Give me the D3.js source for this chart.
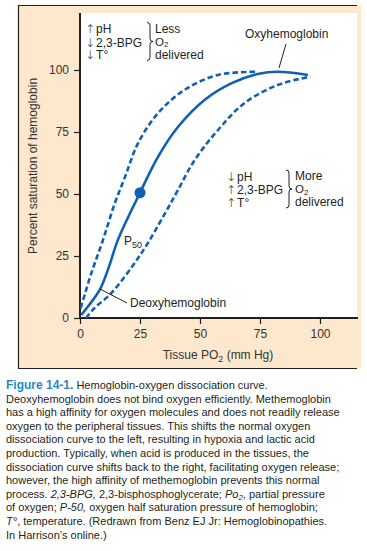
<!DOCTYPE html>
<html><head><meta charset="utf-8">
<script src="https://cdn.jsdelivr.net/npm/d3@7"></script>
<style>
html,body{margin:0;padding:0;background:#fff;}
svg{display:block;}
</style></head>
<body>
<svg id="c" width="367" height="551"></svg>
<script>
// ---- data ----
const xTicks = [0, 25, 50, 75, 100];
const yTicks = [0, 25, 50, 75, 100];
const normalPO2 = [0.5, 3.3, 8.2, 12, 15.8, 25, 32.5, 40.8, 52, 63, 74, 82.5, 95];
const normalSat = [1.2, 4.6, 11.3, 20.5, 31.5, 50.5, 65, 77, 88, 94.6, 98.4, 99.3, 98];
const leftPO2 = [0.3, 4.7, 9.6, 14.4, 18.8, 24.2, 32.5, 43.6, 57.5, 74];
const leftSat = [4, 18, 31.5, 46, 57, 70.5, 82.6, 92, 98, 99.3];
const rightPO2 = [2.5, 6, 13, 25.5, 35.3, 40.8, 47.8, 57.5, 68.6, 82.5, 96];
const rightSat = [0, 4, 10, 26, 42, 51.6, 63.7, 75.8, 86.7, 94, 97.3];
const p50Point = [25, 50.5];
const topArrows = ["\u2191", "\u2193", "\u2193"];
const topLeftLines = ["pH", "2,3-BPG", "T\u00b0"];
const topRightLines = ["Less", "O2", "delivered"];
const botArrows = ["\u2193", "\u2191", "\u2191"];
const botLeftLines = ["pH", "2,3-BPG", "T\u00b0"];
const botRightLines = ["More", "O2", "delivered"];

const svg = d3.select("#c");
const BLUE = "#1260b4";
const INK = "#231f20";
const FONT = "'Liberation Sans', Arial, sans-serif";

// frame
svg.append("rect").attr("x", 18).attr("y", 5).attr("width", 343).attr("height", 364).attr("fill", "#fde8cd");
svg.append("path").attr("d", "M357,5.5 H18.5 V368.5 H357").attr("fill", "none").attr("stroke", INK).attr("stroke-width", 1.2);
svg.append("rect").attr("x", 80).attr("y", 13).attr("width", 277).attr("height", 305).attr("fill", "#fff");

const x = d3.scaleLinear().domain([0, 100]).range([80, 320]);
const y = d3.scaleLinear().domain([0, 100]).range([318, 70]);

// axes
const gx = svg.append("g").attr("transform", "translate(0,318)")
  .call(d3.axisBottom(x).tickValues(xTicks).tickSize(6).tickPadding(5).tickSizeOuter(0));
const gy = svg.append("g").attr("transform", "translate(80,0)")
  .call(d3.axisLeft(y).tickValues(yTicks).tickSize(6).tickPadding(5).tickSizeOuter(0));
[gx, gy].forEach(g => {
  g.select(".domain").remove();
  g.selectAll("line").attr("stroke", INK).attr("stroke-width", 1.2);
  g.selectAll("text").attr("fill", "#333").style("font-family", FONT).style("font-size", "12px");
});
svg.append("line").attr("x1", 80).attr("x2", 80).attr("y1", 13).attr("y2", 319).attr("stroke", INK).attr("stroke-width", 2);
svg.append("line").attr("x1", 79).attr("x2", 358).attr("y1", 318).attr("y2", 318).attr("stroke", INK).attr("stroke-width", 2);

// axis titles
svg.append("text").attr("transform", "translate(37,166) rotate(-90)").attr("text-anchor", "middle")
  .style("font-family", FONT).style("font-size", "12px").attr("fill", "#333")
  .text("Percent saturation of hemoglobin");
const xt = svg.append("text").attr("x", 218).attr("y", 359).attr("text-anchor", "middle")
  .style("font-family", FONT).style("font-size", "12px").attr("fill", "#333");
xt.append("tspan").text("Tissue PO");
xt.append("tspan").attr("dy", 3).style("font-size", "9px").text("2");
xt.append("tspan").attr("dy", -3).text(" (mm Hg)");

// curves
const line = d3.line().x(d => x(d[0])).y(d => y(d[1])).curve(d3.curveCatmullRom.alpha(0.5));
svg.append("clipPath").attr("id", "pa").append("rect").attr("x", 80).attr("y", 10).attr("width", 280).attr("height", 308);
const curves = svg.append("g").attr("clip-path", "url(#pa)");
curves.append("path").datum(d3.zip(leftPO2, leftSat)).attr("d", line)
  .attr("fill", "none").attr("stroke", BLUE).attr("stroke-width", 2.6).attr("stroke-dasharray", "5.5,3");
curves.append("path").datum(d3.zip(rightPO2, rightSat)).attr("d", line)
  .attr("fill", "none").attr("stroke", BLUE).attr("stroke-width", 2.6).attr("stroke-dasharray", "5.5,3");
curves.append("path").datum(d3.zip(normalPO2, normalSat)).attr("d", line)
  .attr("fill", "none").attr("stroke", BLUE).attr("stroke-width", 2.6);
svg.append("circle").attr("cx", x(p50Point[0])).attr("cy", y(p50Point[1])).attr("r", 5.5).attr("fill", BLUE);

// labels
function txt(xp, yp, s, size) {
  return svg.append("text").attr("x", xp).attr("y", yp).style("font-family", FONT)
    .style("font-size", (size || 12) + "px").attr("fill", "#231f20").text(s);
}
txt(245, 38, "Oxyhemoglobin");
svg.append("line").attr("x1", 286).attr("y1", 44).attr("x2", 279).attr("y2", 68).attr("stroke", INK).attr("stroke-width", 1);
txt(130, 307, "Deoxyhemoglobin");
svg.append("line").attr("x1", 100).attr("y1", 289).attr("x2", 127).attr("y2", 303).attr("stroke", INK).attr("stroke-width", 1);
const p50 = txt(124, 245, "P");
p50.append("tspan").attr("dy", 2.5).style("font-size", "9px").text("50");

function brace(x0, y1, y2, w) {
  const ym = (y1 + y2) / 2, xm = x0 + w / 2, r = 3;
  return `M${x0},${y1} Q${xm},${y1} ${xm},${y1 + r} L${xm},${ym - r} Q${xm},${ym} ${x0 + w},${ym} ` +
    `Q${xm},${ym} ${xm},${ym + r} L${xm},${y2 - r} Q${xm},${y2} ${x0},${y2}`;
}
function block(xl, xb, xr, ys, arrows, left, right) {
  left.forEach((s, i) => {
    const t = svg.append("text").attr("x", xl).attr("y", ys[i] + 0.8).style("font-family", FONT)
      .style("font-size", "12px").attr("fill", "#231f20");
    t.append("tspan").style("font-family", "'DejaVu Sans'").style("font-size", "12px").style("font-weight", "200").text(arrows[i]);
    t.append("tspan").attr("dx", 1).text(s);
  });
  right.forEach((s, i) => {
    if (s === "O2") {
      const t = txt(xr, ys[i] - 0.5, "O", 11.5);
      t.append("tspan").attr("dy", 1.5).style("font-size", "8px").text("2");
    } else txt(xr, ys[i], s);
  });
  svg.append("path").attr("d", brace(xb, ys[0] - 10, ys[2] + 2, 6)).attr("fill", "none").attr("stroke", INK).attr("stroke-width", 1);
}
block(85, 147, 155, [32.5, 46, 58.5], topArrows, topLeftLines, topRightLines);
block(226, 286, 295, [180, 193.5, 206], botArrows, botLeftLines, botRightLines);

// caption
const capLines = [
  [["b", "Figure 14-1."], ["n", " Hemoglobin-oxygen dissociation curve."]],
  [["n", "Deoxyhemoglobin does not bind oxygen efficiently. Methemoglobin"]],
  [["n", "has a high affinity for oxygen molecules and does not readily release"]],
  [["n", "oxygen to the peripheral tissues. This shifts the normal oxygen"]],
  [["n", "dissociation curve to the left, resulting in hypoxia and lactic acid"]],
  [["n", "production. Typically, when acid is produced in the tissues, the"]],
  [["n", "dissociation curve shifts back to the right, facilitating oxygen release;"]],
  [["n", "however, the high affinity of methemoglobin prevents this normal"]],
  [["n", "process. "], ["i", "2,3-BPG,"], ["n", " 2,3-bisphosphoglycerate; "], ["i", "Po"], ["s", "2"], ["n", ", partial pressure"]],
  [["n", "of oxygen; "], ["i", "P-50,"], ["n", " oxygen half saturation pressure of hemoglobin;"]],
  [["i", "T\u00b0"], ["n", ", temperature. (Redrawn from Benz EJ Jr: Hemoglobinopathies."]],
  [["n", "In Harrison\u2019s online.)"]]
];
capLines.forEach((parts, li) => {
  const t = svg.append("text").attr("x", 6).attr("y", 389 + li * 13.6)
    .style("font-family", FONT).style("font-size", "11px").attr("fill", "#231f20");
  let sub = false;
  parts.forEach(([k, s]) => {
    const sp = t.append("tspan").text(s);
    if (k === "b") sp.style("font-weight", "bold").attr("fill", "#1f8bc6").style("font-size", "12px");
    if (k === "i") sp.style("font-style", "italic");
    if (k === "s") { sp.attr("dy", 2.5).style("font-size", "8px").style("font-style", "italic"); sub = true; }
    else if (sub) { sp.attr("dy", -2.5); sub = false; }
  });
});
</script>
</body></html>
